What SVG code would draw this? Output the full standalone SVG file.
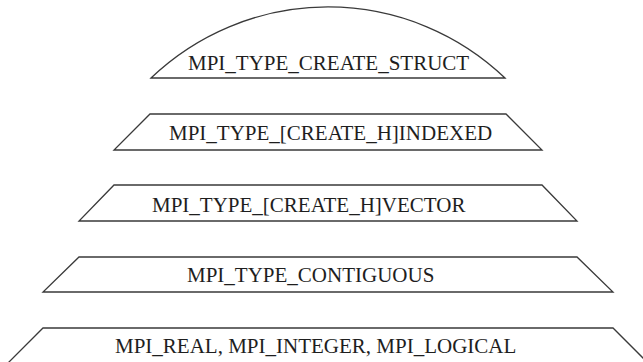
<svg xmlns="http://www.w3.org/2000/svg" width="643" height="362" viewBox="0 0 643 362">
<style>
.shape{fill:#ffffff;stroke:#3a3a3a;stroke-width:1.3;stroke-linejoin:miter}
.label{font-family:"Liberation Serif","Times New Roman",serif;font-size:21px;fill:#1e1e1e}
</style>
<rect width="643" height="362" fill="#ffffff"/>
<g id="struct">
<path class="shape" d="M151,78 A256,256 0 0 1 505,78 Z"/>
<text class="label" x="188" y="70">MPI_TYPE_CREATE_STRUCT</text>
</g>
<g id="indexed">
<polygon class="shape" points="150,114 506,114 542,150 114,150"/>
<text class="label" x="169" y="140">MPI_TYPE_[CREATE_H]INDEXED</text>
</g>
<g id="vector">
<polygon class="shape" points="114,185 542,185 577,221 79,221"/>
<text class="label" x="152" y="212">MPI_TYPE_[CREATE_H]VECTOR</text>
</g>
<g id="contiguous">
<polygon class="shape" points="79,257 577,257 613,292 43,292"/>
<text class="label" x="187" y="282">MPI_TYPE_CONTIGUOUS</text>
</g>
<g id="basic">
<polygon class="shape" points="43,328 613,328 649,364 7,364"/>
<text class="label" x="115" y="353">MPI_REAL, MPI_INTEGER, MPI_LOGICAL</text>
</g>
<g id="connectors"/>
</svg>
